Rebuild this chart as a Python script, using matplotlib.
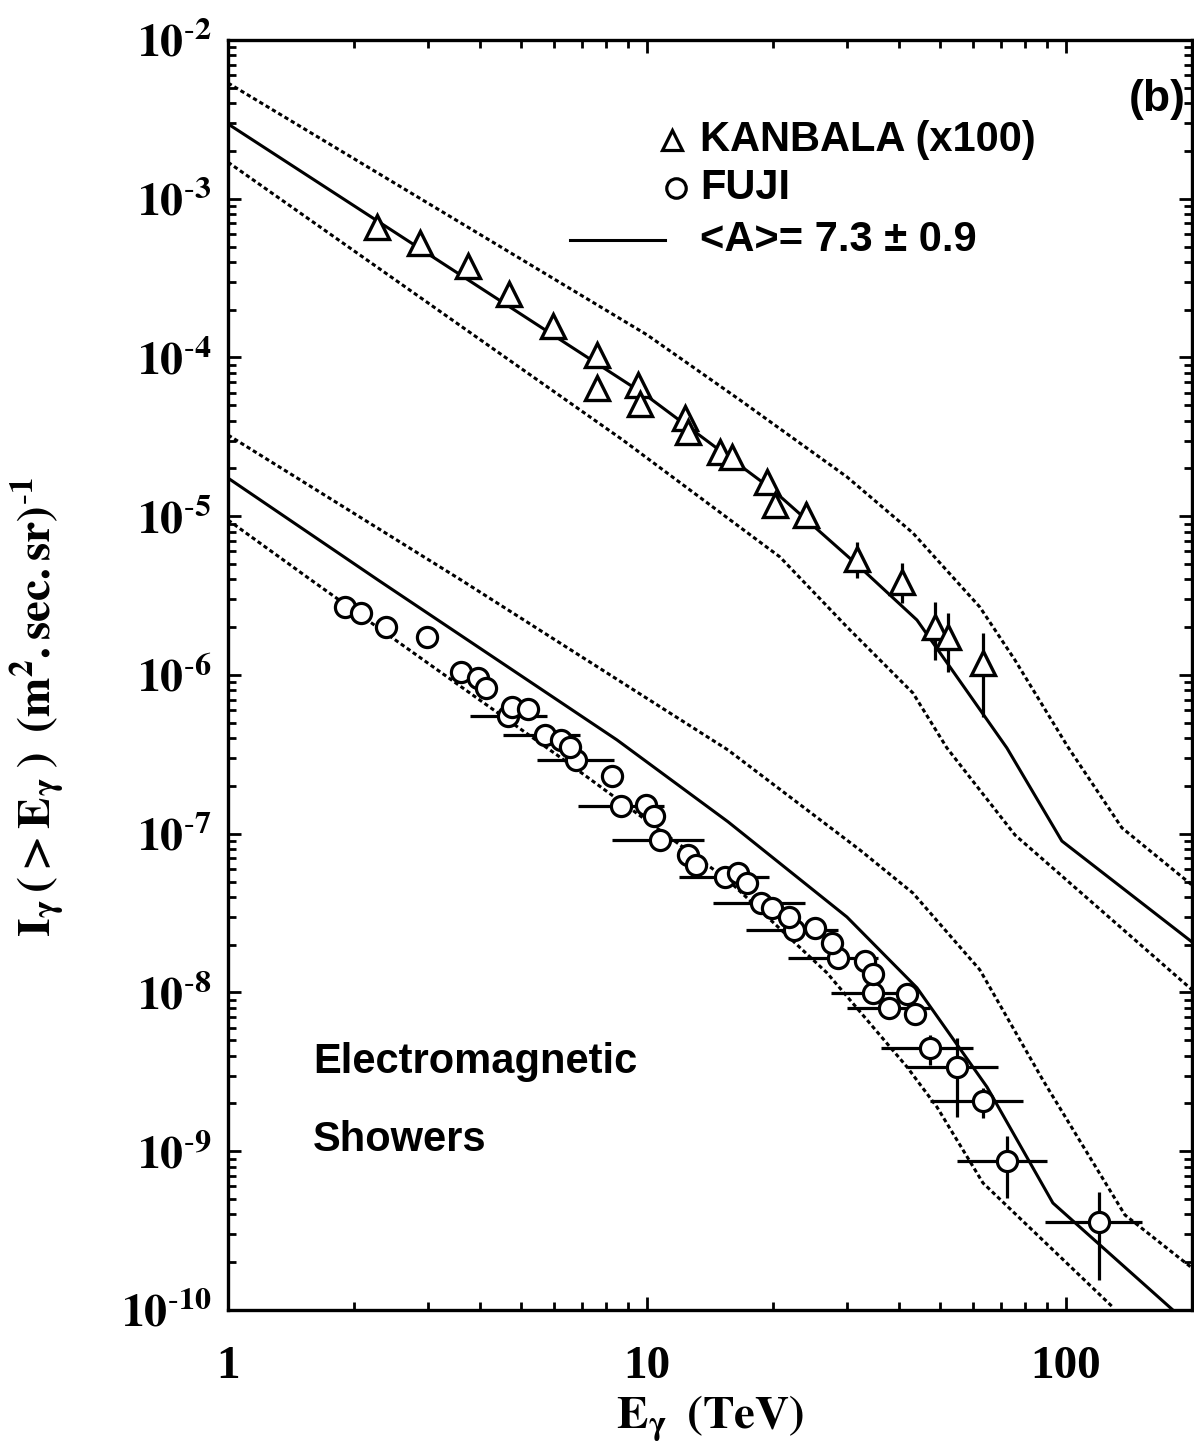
import numpy as np
import matplotlib
matplotlib.use('Agg')
import matplotlib.pyplot as plt

plt.rcParams['mathtext.fontset'] = 'stix'
plt.rcParams['font.family'] = ['Liberation Sans', 'DejaVu Sans']

# KANBALA (x100), triangles
kan_e = [2.27, 2.87, 3.74, 4.68, 5.97, 7.60, 7.60, 9.52, 9.62, 12.32, 12.53,
         14.94, 15.96, 19.34, 20.21, 23.96, 31.71, 40.6, 48.7, 52.3, 63.4]
kan_i = [6.64e-4, 5.26e-4, 3.77e-4, 2.51e-4, 1.58e-4, 1.04e-4, 6.43e-5, 6.71e-5,
         5.10e-5, 4.16e-5, 3.39e-5, 2.54e-5, 2.36e-5, 1.64e-5, 1.18e-5, 1.02e-5,
         5.38e-6, 3.85e-6, 2.01e-6, 1.74e-6, 1.19e-6]
kan_lo = kan_i[:14] + [9.75e-6, 8.4e-6, 4.08e-6, 2.84e-6, 1.24e-6, 1.04e-6, 5.43e-7]
kan_hi = kan_i[:14] + [1.25e-5, 1.23e-5, 6.9e-6, 5.08e-6, 2.88e-6, 2.46e-6, 1.84e-6]

# FUJI, circles without error bars
fuji_e = [1.902, 2.077, 2.383, 2.985, 3.598, 3.951, 4.129, 4.762, 5.200, 6.232,
          6.550, 8.251, 9.945, 10.39, 12.53, 13.09, 16.49, 17.33, 19.88, 21.83,
          25.18, 27.64, 33.14, 34.63, 41.74, 43.61]
fuji_i = [2.68e-6, 2.46e-6, 2.01e-6, 1.74e-6, 1.04e-6, 9.57e-7, 8.28e-7, 6.29e-7,
          6.11e-7, 3.90e-7, 3.52e-7, 2.31e-7, 1.52e-7, 1.29e-7, 7.35e-8, 6.35e-8,
          5.66e-8, 4.90e-8, 3.41e-8, 2.99e-8, 2.55e-8, 2.05e-8, 1.58e-8, 1.31e-8,
          9.78e-9, 7.32e-9]

# FUJI, binned points with error bars
bin_e = [4.66, 5.71, 6.77, 8.67, 10.74, 15.36, 18.71, 22.43, 28.57, 34.63, 37.81,
         47.36, 54.95, 63.4, 72.3, 119.9]
bin_elo = [3.78, 4.53, 5.46, 6.84, 8.25, 11.92, 14.37, 17.23, 21.70, 27.49, 30.01,
           36.18, 41.74, 47.36, 54.95, 89.1]
bin_ehi = [5.77, 6.92, 8.34, 10.98, 13.68, 19.55, 23.83, 28.57, 35.58, 44.09, 47.36,
           59.98, 68.8, 78.97, 90.1, 151.9]
bin_i = [5.52e-7, 4.19e-7, 2.91e-7, 1.50e-7, 9.13e-8, 5.34e-8, 3.66e-8, 2.48e-8,
         1.65e-8, 9.93e-9, 7.99e-9, 4.47e-9, 3.40e-9, 2.07e-9, 8.68e-10, 3.58e-10]
bin_ilo = bin_i[:11] + [3.49e-9, 1.64e-9, 1.62e-9, 5.08e-10, 1.55e-10]
bin_ihi = bin_i[:11] + [5.40e-9, 5.17e-9, 2.50e-9, 1.25e-9, 5.54e-10]

# model curves <A> = 7.3 +- 0.9
kan_fit_e = [1, 10, 20, 32.2, 44.1, 72.3, 97.8, 200]
kan_fit_i = [2.96e-3, 5.72e-5, 1.46e-5, 4.79e-6, 2.22e-6, 3.47e-7, 9.0e-8, 2.08e-8]
kan_up_e = [1, 10, 16.67, 30.01, 43.14, 62.3, 75.6, 101.1, 136.0, 200]
kan_up_i = [5.36e-3, 1.39e-4, 5.40e-5, 1.77e-5, 7.84e-6, 2.68e-6, 1.24e-6, 3.52e-7,
            1.09e-7, 4.75e-8]
kan_dn_e = [1, 8.76, 20.77, 30.01, 43.14, 52.0, 75.6, 200]
kan_dn_i = [1.70e-3, 3.02e-5, 5.54e-6, 2.01e-6, 7.70e-7, 3.47e-7, 9.82e-8, 1.04e-8]

fuji_fit_e = [1, 2.28, 8.48, 15.61, 30.01, 44.11, 64.8, 93.1, 180]
fuji_fit_i = [1.74e-5, 3.97e-6, 3.90e-7, 1.19e-7, 2.99e-8, 1.07e-8, 2.54e-9, 4.72e-10, 1.0e-10]
fuji_up_e = [1, 3.598, 15.61, 32.24, 43.14, 62.3, 88.1, 138.3, 200]
fuji_up_i = [3.25e-5, 3.97e-6, 3.37e-7, 7.90e-8, 4.23e-8, 1.39e-8, 2.81e-9, 3.97e-10, 1.84e-10]
fuji_dn_e = [1, 1.578, 6.199, 15.61, 26.89, 41.74, 49.22, 63.4, 129.5]
fuji_dn_i = [9.47e-6, 3.97e-6, 3.04e-7, 5.11e-8, 1.33e-8, 3.40e-9, 1.90e-9, 6.31e-10, 1.04e-10]

yticks = [1e-10, 1e-9, 1e-8, 1e-7, 1e-6, 1e-5, 1e-4, 1e-3, 1e-2]
yexps = ['10', '9', '8', '7', '6', '5', '4', '3', '2']
xticks = [1, 10, 100]
xtick_labels = ['1', '10', '100']

fig = plt.figure(figsize=(11.94, 14.55), dpi=100)
ax = fig.add_axes([0.19095, 0.09966, 0.8074, 0.87285])
ax.set_xscale('log')
ax.set_yscale('log')
ax.set_xlim(1, 200)
ax.set_ylim(1e-10, 1e-2)

dash = (0, (1.4, 1.0))
for e, i, ls in [(kan_fit_e, kan_fit_i, '-'), (kan_up_e, kan_up_i, dash), (kan_dn_e, kan_dn_i, dash),
                 (fuji_fit_e, fuji_fit_i, '-'), (fuji_up_e, fuji_up_i, dash), (fuji_dn_e, fuji_dn_i, dash)]:
    ax.plot(e, i, color='black', ls=ls, lw=2.2, zorder=2)

kan_e = np.array(kan_e); kan_i = np.array(kan_i)
ax.errorbar(kan_e, kan_i, yerr=[kan_i - np.array(kan_lo), np.array(kan_hi) - kan_i],
            fmt='none', ecolor='black', elinewidth=2.3, capsize=0, zorder=3)
ax.plot(kan_e, kan_i, ls='none', marker='^', ms=17, mfc='white', mec='black', mew=2.4, zorder=4)

bin_e = np.array(bin_e); bin_i = np.array(bin_i)
ax.errorbar(bin_e, bin_i,
            xerr=[bin_e - np.array(bin_elo), np.array(bin_ehi) - bin_e],
            yerr=[bin_i - np.array(bin_ilo), np.array(bin_ihi) - bin_i],
            fmt='none', ecolor='black', elinewidth=2.3, capsize=0, zorder=3)
ax.plot(bin_e, bin_i, ls='none', marker='o', ms=14.5, mfc='white', mec='black', mew=2.3, zorder=4)
ax.plot(fuji_e, fuji_i, ls='none', marker='o', ms=14.5, mfc='white', mec='black', mew=2.3, zorder=4)

ax.set_yticks(yticks)
ax.set_yticklabels([r'$\mathbf{10^{\text{-}' + p + '}}$' for p in yexps], fontsize=33)
ax.set_xticks(xticks)
ax.set_xticklabels(xtick_labels, fontsize=34, fontweight='bold', family='Liberation Serif')
ax.tick_params(which='both', direction='in', top=True, right=True, width=2)
ax.tick_params(which='major', length=9.5)
ax.tick_params(which='minor', length=5.5)
ax.tick_params(axis='x', which='major', pad=26)
ax.tick_params(axis='y', which='major', pad=12)
for s in ax.spines.values():
    s.set_linewidth(2.4)

ax.set_xlabel(r'$\mathbf{E_{\gamma}\;\;(TeV)}$', fontsize=34)
ax.xaxis.set_label_coords(0.5, -0.066)
ax.set_ylabel(r'$\mathbf{I_{\gamma}\,(>E_{\gamma}\;)\;\;(m^{2}.sec.sr)^{\text{-}1}}$', fontsize=34)
ax.yaxis.set_label_coords(-0.167, 0.475)

# legend drawn by hand
ax.plot([0.4606], [0.9213], transform=ax.transAxes, marker='^', ms=15, mfc='white',
        mec='black', mew=2.3, clip_on=False)
ax.plot([0.4647], [0.8835], transform=ax.transAxes, marker='o', ms=14, mfc='white',
        mec='black', mew=2.3, clip_on=False)
ax.plot([0.3548, 0.4533], [0.8425, 0.8425], transform=ax.transAxes, color='black', lw=2.2)
tfont = dict(fontsize=30, fontweight='bold', va='center', ha='left')
ax.text(0.4896, 0.9213, 'KANBALA (x100)', transform=ax.transAxes, **tfont)
ax.text(0.4896, 0.8835, 'FUJI', transform=ax.transAxes, **tfont)
ax.text(0.4896, 0.8425, '<A>= 7.3 \u00b1 0.9', transform=ax.transAxes, **tfont)

fig.text(0.9455, 0.9313, '(b)', fontsize=32, fontweight='bold', va='center', ha='left')
fig.text(0.2621, 0.2701, 'Electromagnetic', **tfont)
fig.text(0.2621, 0.2165, 'Showers', **tfont)

fig.savefig('out.png', dpi=100)
